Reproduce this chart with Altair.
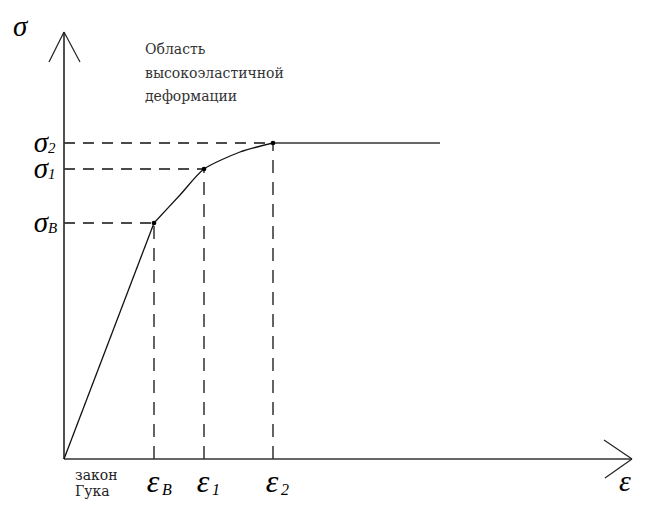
import altair as alt
import pandas as pd

# key points of the stress-strain diagram (arbitrary units)
point_names = ["B", "1", "2"]
eps_vals = [0.90, 1.40, 2.09]
sig_vals = [2.36, 2.90, 3.16]

# curve from sigma_B through sigma_1 to the plateau
curve_x = [0.90, 1.16, 1.40, 1.76, 2.09]
curve_y = [2.36, 2.64, 2.90, 3.07, 3.16]
plateau_end = 3.76

# Hooke's law segment
hooke_x = [0.0, 0.90]
hooke_y = [0.0, 2.36]

# axes and arrowheads
axis_x = [0.0, 0.0]
axis_y = [0.0, 0.0]
axis_x2 = [5.68, 0.0]
axis_y2 = [0.0, 4.27]
arm_x = [0.0, 0.0, 5.68, 5.68]
arm_y = [4.27, 4.27, 0.0, 0.0]
arm_x2 = [-0.15, 0.16, 5.40, 5.41]
arm_y2 = [3.97, 3.97, 0.19, -0.19]

region_lines = ["Область", "высокоэластичной", "деформации"]
region_y = [4.05, 3.81, 3.58]
hooke_lines = ["закон", "Гука"]
hooke_text_y = [-0.21, -0.37]

XD = [-0.56, 5.74]
YD = [-0.41, 4.51]

def X(f="x"):
    return alt.X(f"{f}:Q", scale=alt.Scale(domain=XD, nice=False, zero=False), axis=None)

def Y(f="y"):
    return alt.Y(f"{f}:Q", scale=alt.Scale(domain=YD, nice=False, zero=False), axis=None)

pts = pd.DataFrame({"name": point_names, "x": eps_vals, "y": sig_vals,
                    "x0": [0.0] * 3, "y0": [0.0] * 3})

axes = alt.Chart(pd.DataFrame({"x": axis_x, "y": axis_y, "x2": axis_x2, "y2": axis_y2})).mark_rule(
    color="#333333", strokeWidth=1.7).encode(x=X(), y=Y(), x2="x2:Q", y2="y2:Q")

arms = alt.Chart(pd.DataFrame({"x": arm_x, "y": arm_y, "x2": arm_x2, "y2": arm_y2})).mark_rule(
    color="#222222", strokeWidth=1.2).encode(x=X(), y=Y(), x2="x2:Q", y2="y2:Q")

hooke = alt.Chart(pd.DataFrame({"x": hooke_x, "y": hooke_y})).mark_line(
    color="#111111", strokeWidth=1.3).encode(x=X(), y=Y())

curve = alt.Chart(pd.DataFrame({"x": curve_x, "y": curve_y})).mark_line(
    color="#111111", strokeWidth=1.3, interpolate="cardinal", tension=0.3).encode(x=X(), y=Y())

plateau = alt.Chart(pd.DataFrame({"x": [curve_x[-1]], "y": [curve_y[-1]],
                                   "x2": [plateau_end]})).mark_rule(
    color="#333333", strokeWidth=1.7).encode(x=X(), y=Y(), x2="x2:Q")

hdash = alt.Chart(pts).mark_rule(color="#111111", strokeWidth=1.3, strokeDash=[11, 8]).encode(
    x=X("x0"), x2="x:Q", y=Y())

vdash = alt.Chart(pts).mark_rule(color="#111111", strokeWidth=1.3, strokeDash=[13, 9]).encode(
    x=X(), y=Y("y0"), y2="y:Q")

dots = alt.Chart(pts).mark_circle(color="#000000", size=22, opacity=1).encode(x=X(), y=Y())

greek = dict(font="Liberation Serif", fontStyle="italic", color="#000000", baseline="alphabetic")

sig_main = alt.Chart(pts).mark_text(text="σ", fontSize=29, align="right", dy=9, **greek).encode(
    x=alt.value(40), y=Y())
sig_sub = alt.Chart(pts).mark_text(fontSize=15, align="left", dy=10, **greek).encode(
    x=alt.value(40), y=Y(), text="name:N")

eps_main = alt.Chart(pts).mark_text(text="ε", fontSize=32, align="center", dx=-1, **greek).encode(
    x=X(), y=alt.value(484))
eps_sub = alt.Chart(pts).mark_text(fontSize=16, align="left", dx=8, **greek).encode(
    x=X(), y=alt.value(487), text="name:N")

sigma_axis = alt.Chart(pd.DataFrame({"x": [-0.51], "y": [4.23], "t": ["σ"]})).mark_text(
    fontSize=29, align="left", **greek).encode(x=X(), y=Y(), text="t:N")
eps_axis = alt.Chart(pd.DataFrame({"x": [5.55], "y": [-0.32], "t": ["ε"]})).mark_text(
    fontSize=30, align="left", **greek).encode(x=X(), y=Y(), text="t:N")

region = alt.Chart(pd.DataFrame({"x": [0.81] * 3, "y": region_y, "t": region_lines})).mark_text(
    font="DejaVu Serif", fontSize=14, align="left", baseline="alphabetic", color="#333333").encode(
    x=X(), y=Y(), text="t:N")

hooke_lbl = alt.Chart(pd.DataFrame({"x": [0.11] * 2, "y": hooke_text_y, "t": hooke_lines})).mark_text(
    font="DejaVu Serif", fontSize=14, align="left", baseline="alphabetic", color="#222222").encode(
    x=X(), y=Y(), text="t:N")

chart = alt.layer(
    hdash, vdash, axes, arms, hooke, curve, plateau, dots,
    sig_main, sig_sub, eps_main, eps_sub, sigma_axis, eps_axis, region, hooke_lbl
).properties(
    width=630, height=492, padding=0,
    autosize=alt.AutoSizeParams(type="none"), background="white"
).configure_view(stroke=None)

chart.save("out.html", embed_options={"renderer": "svg", "actions": False})
